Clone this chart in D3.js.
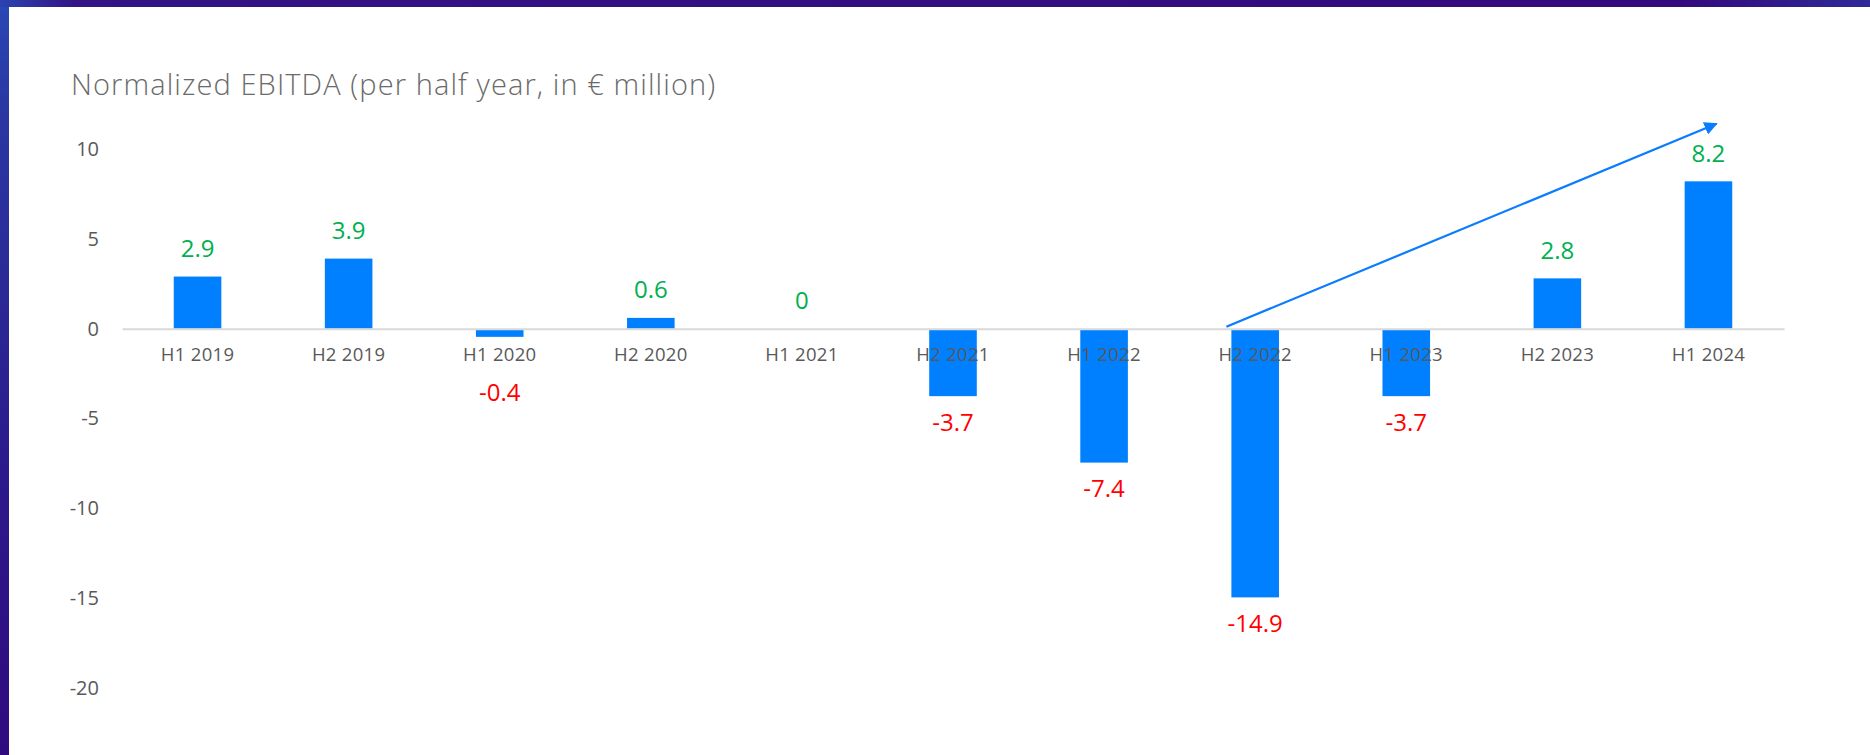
<!DOCTYPE html>
<html>
<head>
<meta charset="utf-8">
<script src="https://cdn.jsdelivr.net/npm/d3@7"></script>
<style>
  html, body { margin: 0; padding: 0; }
  body { width: 1870px; height: 755px; overflow: hidden; }
</style>
</head>
<body>
<div id="chart"></div>
<script>
// half-year periods
var periods = ["H1 2019", "H2 2019", "H1 2020", "H2 2020", "H1 2021", "H2 2021",
               "H1 2022", "H2 2022", "H1 2023", "H2 2023", "H1 2024"];
// normalized EBITDA, € million
var ebitda = [2.9, 3.9, -0.4, 0.6, 0, -3.7, -7.4, -14.9, -3.7, 2.8, 8.2];
var yTicks = [10, 5, 0, -5, -10, -15, -20];
// trend arrow: from H2 2022 at zero up to above H1 2024
var trendFrom = { period: "H2 2022", value: 0 };
var trendTo = { period: "H1 2024", value: 11.4 };

var W = 1870, H = 755;
var svg = d3.select("#chart").append("svg")
    .attr("width", W)
    .attr("height", H);

// gradient frame
var defs = svg.append("defs");
var grad = defs.append("linearGradient")
    .attr("id", "frame")
    .attr("x1", "0").attr("y1", "0").attr("x2", "0.35").attr("y2", "1");
grad.append("stop").attr("offset", "0%").attr("stop-color", "#2a48b4");
grad.append("stop").attr("offset", "12%").attr("stop-color", "#2a38a4");
grad.append("stop").attr("offset", "55%").attr("stop-color", "#2c1a8c");
grad.append("stop").attr("offset", "100%").attr("stop-color", "#30067a");

var topGrad = defs.append("linearGradient")
    .attr("id", "topband")
    .attr("x1", "0").attr("y1", "0").attr("x2", "1").attr("y2", "0");
topGrad.append("stop").attr("offset", "0%").attr("stop-color", "#2a44b0");
topGrad.append("stop").attr("offset", "4%").attr("stop-color", "#331385");
topGrad.append("stop").attr("offset", "90%").attr("stop-color", "#34097d");
topGrad.append("stop").attr("offset", "100%").attr("stop-color", "#2e2a98");

svg.append("rect").attr("width", W).attr("height", H).attr("fill", "url(#frame)");
svg.append("rect").attr("width", W).attr("height", 7).attr("fill", "url(#topband)");
svg.append("rect").attr("x", 9).attr("y", 7).attr("width", W - 9).attr("height", H - 7).attr("fill", "#fff");

// title
svg.append("text")
    .attr("x", 71)
    .attr("y", 95)
    .attr("font-family", "'Open Sans', sans-serif")
    .attr("font-weight", 300)
    .attr("font-size", "29px")
    .attr("letter-spacing", "1.1px")
    .attr("fill", "#6a6a6a")
    .text("Normalized EBITDA (per half year, in € million)");

var margin = {left: 122, right: 86, top: 149, bottom: 67};

var x = d3.scaleBand()
    .domain(periods)
    .range([margin.left, W - margin.right])
    .paddingInner(0.685)
    .paddingOuter(0.3425);

var y = d3.scaleLinear()
    .domain([-20, 10])
    .range([H - margin.bottom, margin.top]);

// y axis (labels only), plain hyphen for negatives
var yAxis = svg.append("g")
    .attr("transform", "translate(" + margin.left + ",0)")
    .call(d3.axisLeft(y).tickValues(yTicks).tickSize(0).tickPadding(23)
        .tickFormat(function(d) { return String(d); }));
yAxis.select(".domain").remove();
yAxis.selectAll("text")
    .attr("font-family", "'Open Sans', sans-serif")
    .attr("font-size", "20px")
    .attr("fill", "#595959");

// bars
svg.append("g").selectAll("rect")
    .data(ebitda)
    .join("rect")
    .attr("x", function(d, i) { return x(periods[i]); })
    .attr("width", x.bandwidth())
    .attr("y", function(d) { return d >= 0 ? y(d) : y(0) + 1; })
    .attr("height", function(d) { return Math.abs(y(d) - y(0)); })
    .attr("fill", "#0080ff");

// x axis on the zero line
var xAxis = svg.append("g")
    .attr("transform", "translate(0," + y(0) + ")")
    .call(d3.axisBottom(x).tickSize(0).tickSizeOuter(0).tickPadding(19));
xAxis.select(".domain")
    .attr("stroke", "#d9d9d9")
    .attr("stroke-width", 2);
xAxis.selectAll("text")
    .attr("font-family", "'Open Sans', sans-serif")
    .attr("font-size", "18.5px")
    .attr("letter-spacing", "0.3px")
    .attr("fill", "#595959");

// value labels
var labelFloor = y(0) + 64;
svg.append("g").selectAll("text")
    .data(ebitda)
    .join("text")
    .attr("x", function(d, i) { return x(periods[i]) + x.bandwidth() / 2; })
    .attr("y", function(d) {
        if (d >= 0) return y(d) - 28;
        return Math.max(y(d) + 27, labelFloor);
    })
    .attr("dy", "0.35em")
    .attr("text-anchor", "middle")
    .attr("font-family", "'Open Sans', sans-serif")
    .attr("font-size", "24px")
    .attr("fill", function(d) { return d >= 0 ? "#00b050" : "#ff0000"; })
    .text(function(d) { return d; });

// trend arrow
defs.append("marker")
    .attr("id", "arrowhead")
    .attr("viewBox", "0 0 10 10")
    .attr("refX", 9).attr("refY", 5)
    .attr("markerWidth", 6).attr("markerHeight", 6)
    .attr("markerUnits", "strokeWidth")
    .attr("orient", "auto")
    .append("path")
    .attr("d", "M0,0 L10,5 L0,10 z")
    .attr("fill", "#0a7cff");

svg.append("line")
    .attr("x1", x(trendFrom.period) - 5)
    .attr("y1", y(trendFrom.value) - 2)
    .attr("x2", x(trendTo.period) + x.bandwidth() / 2 + 8)
    .attr("y2", y(trendTo.value))
    .attr("stroke", "#0a7cff")
    .attr("stroke-width", 2.2)
    .attr("marker-end", "url(#arrowhead)");
</script>
</body>
</html>
